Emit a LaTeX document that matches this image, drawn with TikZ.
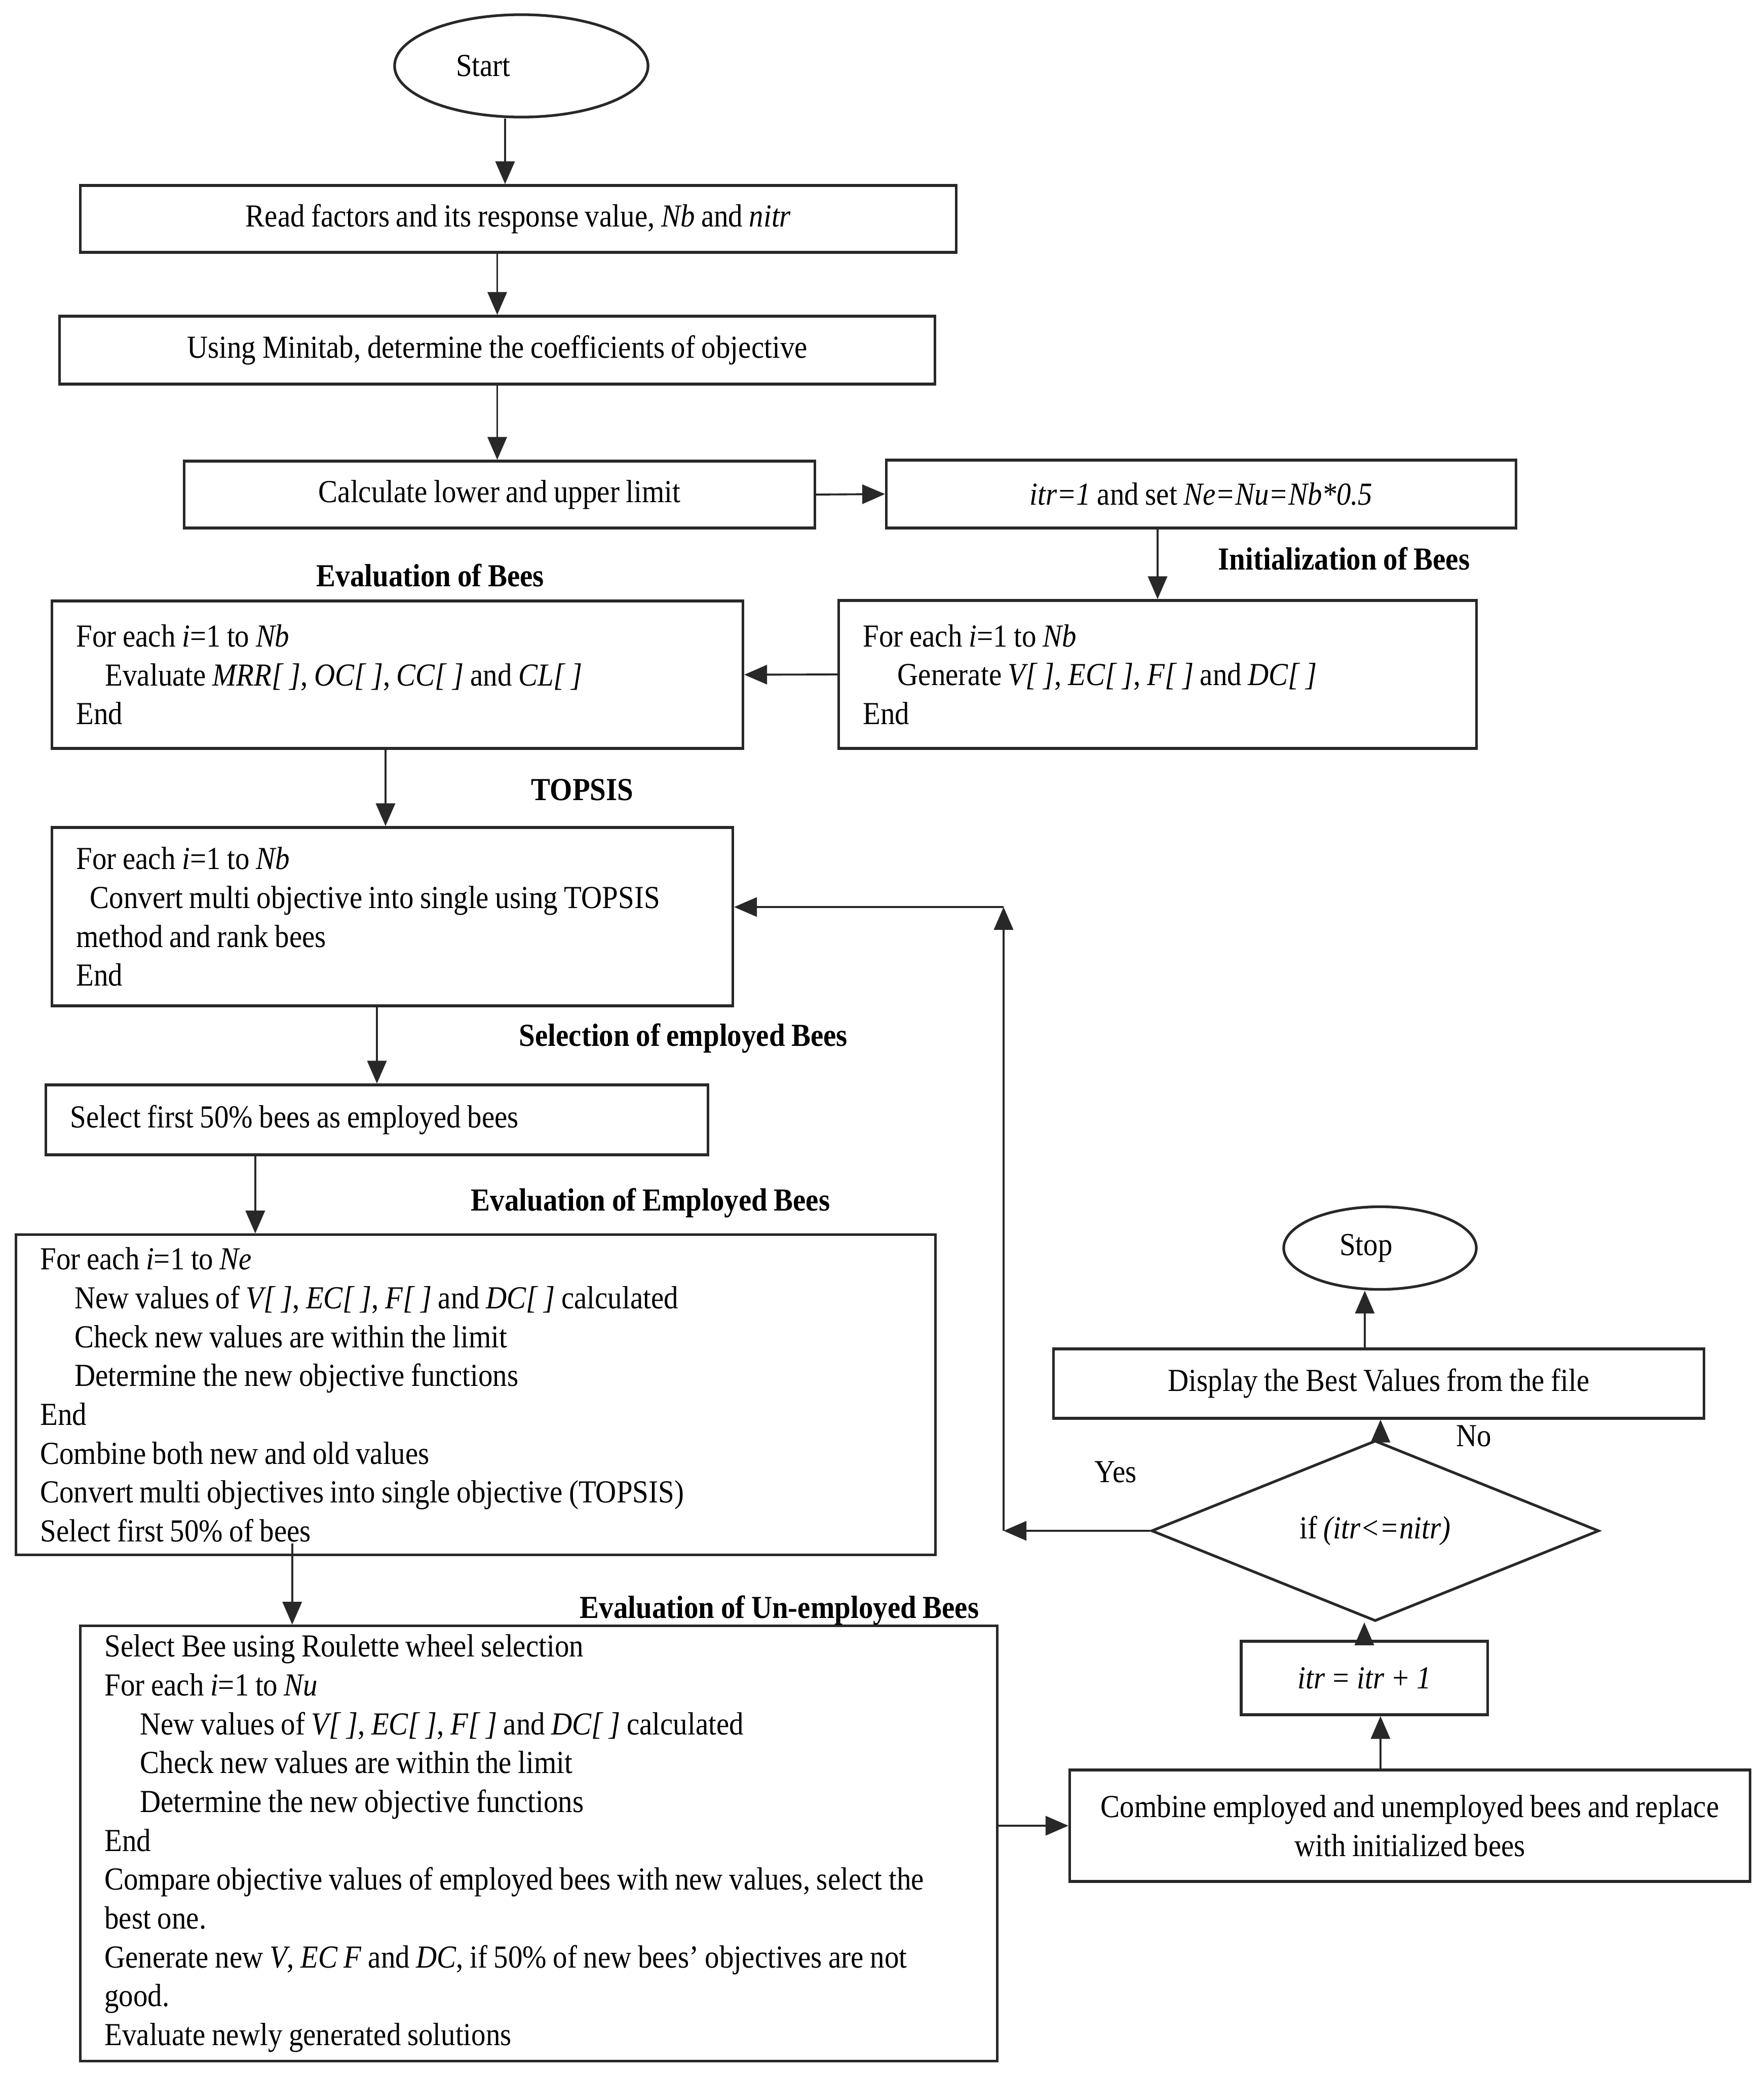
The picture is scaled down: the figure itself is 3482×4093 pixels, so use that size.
\documentclass[tikz,border=0pt]{standalone}
\usepackage{fontspec}
\setmainfont{Liberation Serif}[FakeStretch=0.9]
\usetikzlibrary{arrows.meta,shapes.geometric}
\definecolor{ln}{RGB}{40,40,40}
\newcommand{\mysp}{\spaceskip=0.88\fontdimen2\font\relax\xspaceskip=0.95\fontdimen2\font\relax}
\newcommand{\myfont}{\fontsize{18pt}{21.8pt}\selectfont\mysp}
\begin{document}
\begin{tikzpicture}[x=0.01cm,y=-0.01cm,
  every node/.style={font=\myfont, text=black},
  cbox/.style={draw=ln, line width=1.5pt, rectangle, inner sep=0pt, align=center},
  lbox/.style={draw=ln, line width=1.5pt, rectangle, inner xsep=0.48cm, inner ysep=0pt, align=left},
  ell/.style={draw=ln, line width=1.5pt, ellipse, inner sep=0pt},
  dia/.style={draw=ln, line width=1.5pt, diamond, inner sep=0pt},
  lab/.style={inner sep=0pt, anchor=west, font={\myfont\bfseries}},
  plab/.style={inner sep=0pt, anchor=west},
  arr/.style={draw=ln, line width=1.1pt, -{Triangle[length=0.45cm,width=0.38cm]}}
]
\path[fill=white] (0,0) rectangle (3482,4093);
\useasboundingbox (0,0) rectangle (3482,4093);

% nodes
\node[ell, minimum width=5cm, minimum height=2.02cm] (start) at (1029,130) {Start\hspace*{1.5cm}};
\node[cbox, minimum width=17.28cm, minimum height=1.32cm] (b1) at (1023,432)
  {Read factors and its response value, \textit{Nb} and \textit{nitr}};
\node[cbox, minimum width=17.27cm, minimum height=1.34cm] (b2) at (981.5,691)
  {Using Minitab, determine the coefficients of objective};
\node[cbox, minimum width=12.44cm, minimum height=1.32cm] (b3) at (986,976)
  {Calculate lower and upper limit};
\node[cbox, minimum width=12.42cm, minimum height=1.34cm] (b4) at (2371,975)
  {\textit{itr=1} and set \textit{Ne=Nu=Nb*0.5}};
\node[lbox, text width=11.62cm, minimum height=2.92cm] (b5) at (2285,1331)
  {\mysp For each \textit{i}=1 to \textit{Nb}\\
   \hspace*{0.68cm}Generate \textit{V[ ]}, \textit{EC[ ]}, \textit{F[ ]} and \textit{DC[ ]}\\
   End};
\node[lbox, text width=12.67cm, minimum height=2.91cm] (b6) at (784.5,1331.5)
  {\mysp For each \textit{i}=1 to \textit{Nb}\\
   \hspace*{0.57cm}Evaluate \textit{MRR[ ]}, \textit{OC[ ]}, \textit{CC[ ]} and \textit{CL[ ]}\\
   End};
\node[lbox, text width=12.47cm, minimum height=3.52cm] (b7) at (774.5,1809)
  {\mysp For each \textit{i}=1 to \textit{Nb}\\
   \hspace*{0.27cm}Convert multi objective into single using TOPSIS\\
   method and rank bees\\
   End};
\node[lbox, text width=12.10cm, minimum height=1.38cm] (b8) at (744,2210)
  {\mysp Select first 50\% bees as employed bees};
\node[lbox, text width=17.18cm, minimum height=6.31cm] (b9) at (939,2752.5)
  {\mysp For each \textit{i}=1 to \textit{Ne}\\
   \hspace*{0.68cm}New values of \textit{V[ ]}, \textit{EC[ ]}, \textit{F[ ]} and \textit{DC[ ]} calculated\\
   \hspace*{0.68cm}Check new values are within the limit\\
   \hspace*{0.68cm}Determine the new objective functions\\
   End\\
   Combine both new and old values\\
   Convert multi objectives into single objective (TOPSIS)\\
   Select first 50\% of bees};
\node[lbox, text width=17.13cm, minimum height=8.58cm] (b10) at (1063.5,3638)
  {\mysp Select Bee using Roulette wheel selection\\
   For each \textit{i}=1 to \textit{Nu}\\
   \hspace*{0.70cm}New values of \textit{V[ ]}, \textit{EC[ ]}, \textit{F[ ]} and \textit{DC[ ]} calculated\\
   \hspace*{0.70cm}Check new values are within the limit\\
   \hspace*{0.70cm}Determine the new objective functions\\
   End\\
   Compare objective values of employed bees with new values, select the\\
   best one.\\
   Generate new \textit{V}, \textit{EC F} and \textit{DC}, if 50\% of new bees' objectives are not\\
   good.\\
   Evaluate newly generated solutions};
\node[ell, minimum width=3.8cm, minimum height=1.63cm] (stop) at (2724,2463) {Stop\hspace*{0.55cm}};
\node[cbox, minimum width=12.83cm, minimum height=1.37cm] (disp) at (2721.5,2730.5)
  {Display the Best Values from the file};
\node[dia, minimum width=8.83cm, minimum height=2.41cm] (dec) at (2714.5,3021)
  {if \textit{(itr<=nitr)}};
\node[cbox, minimum width=4.86cm, minimum height=1.45cm] (itr) at (2693,3311.5)
  {\textit{itr = itr + 1}};
\node[cbox, minimum width=13.42cm, minimum height=2.20cm] (comb) at (2783,3603)
  {Combine employed and unemployed bees and replace\\with initialized bees};

% labels
\node[lab] (lInit) at (2404,1103) {Initialization of Bees};
\node[lab] (lEvB) at (624,1136) {Evaluation of Bees};
\node[lab] (lTop) at (1048,1559) {TOPSIS};
\node[lab] (lSel) at (1024,2049) {Selection of employed Bees};
\node[lab] (lEmp) at (929,2374) {Evaluation of Employed Bees};
\node[lab] (lUn) at (1144,3178) {Evaluation of Un-employed Bees};
\node[plab] (lYes) at (2160,2905) {Yes};
\node[plab] (lNo) at (2874,2834) {No};

% connectors
\draw[arr] ([xshift=-0.32cm]start.south) -- ([xshift=-0.32cm]start.south |- b1.north);
\draw[arr] (b2.north |- b1.south) -- (b2.north);
\draw[arr] (b2.south) -- (b2.south |- b3.north);
\draw[arr] (b3.east) -- (b4.west);
\draw[arr] (b5.north |- b4.south) -- (b5.north);
\draw[arr] (b5.west) -- (b6.east);
\coordinate (a7s) at ([xshift=-0.235cm]b6.south);
\draw[arr] (a7s) -- (a7s |- b7.north);
\draw[arr] (b8.north |- b7.south) -- (b8.north);
\coordinate (a9s) at ([xshift=-2.40cm]b8.south);
\draw[arr] (a9s) -- (a9s |- b9.north);
\coordinate (a10s) at ([xshift=-3.62cm,yshift=0.25cm]b9.south);
\draw[arr] (a10s) -- (a10s |- b10.north);
\draw[arr] (comb.west -| b10.east) -- (comb.west);
\coordinate (a12s) at ([xshift=-0.58cm]comb.north);
\draw[arr] (a12s) -- (a12s |- itr.south);
\draw[arr] (itr.north) -- (itr.north |- dec.south);
\coordinate (a14s) at ([xshift=0.105cm]dec.north);
\draw[arr] (a14s) -- (a14s |- disp.south);
\coordinate (a15s) at ([xshift=-0.275cm]disp.north);
\draw[arr] (a15s) -- (a15s |- stop.south);
\coordinate (yesend) at (1981,3021);
\coordinate (loopc) at (1981,1790);
\draw[arr] (dec.west) -- (yesend);
\draw[arr] (yesend) -- (loopc);
\draw[arr] (loopc) -- (loopc -| b7.east);
\end{tikzpicture}
\end{document}
